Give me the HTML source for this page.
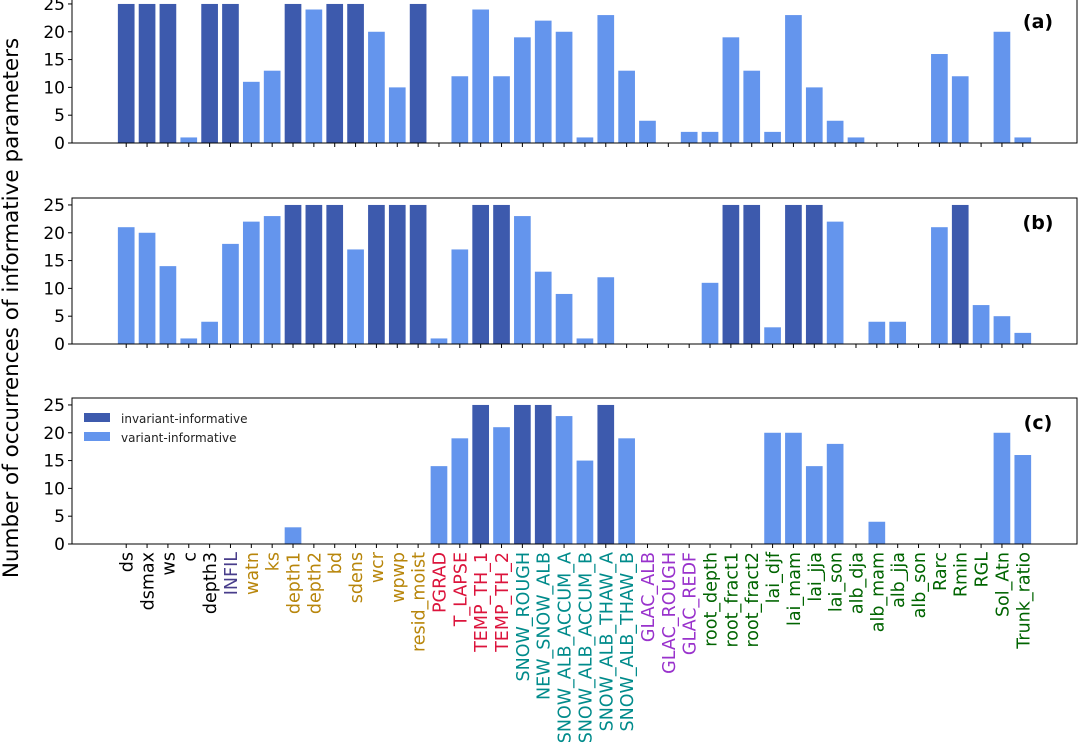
<!DOCTYPE html>
<html><head><meta charset="utf-8"><style>
body{margin:0;background:#fff;}
svg text{font-family:"DejaVu Sans","Liberation Sans",sans-serif;}
</style></head><body>
<svg id="chart" width="1078" height="750" xmlns="http://www.w3.org/2000/svg"></svg>
<script>
const categories=["ds","dsmax","ws","c","depth3","INFIL","watn","ks","depth1","depth2","bd","sdens","wcr","wpwp","resid_moist","PGRAD","T_LAPSE","TEMP_TH_1","TEMP_TH_2","SNOW_ROUGH","NEW_SNOW_ALB","SNOW_ALB_ACCUM_A","SNOW_ALB_ACCUM_B","SNOW_ALB_THAW_A","SNOW_ALB_THAW_B","GLAC_ALB","GLAC_ROUGH","GLAC_REDF","root_depth","root_fract1","root_fract2","lai_djf","lai_mam","lai_jja","lai_son","alb_dja","alb_mam","alb_jja","alb_son","Rarc","Rmin","RGL","Sol_Atn","Trunk_ratio"];
const labelGroups=[0,0,0,0,0,1,2,2,2,2,2,2,2,2,2,3,3,3,3,4,4,4,4,4,4,5,5,5,6,6,6,6,6,6,6,6,6,6,6,6,6,6,6,6];
const groupColors=["#000000","#483d8b","#b8860b","#dc143c","#008b8b","#9932cc","#006400"];
const valuesA=[25,25,25,1,25,25,11,13,25,24,25,25,20,10,25,0,12,24,12,19,22,20,1,23,13,4,0,2,2,19,13,2,23,10,4,1,0,0,0,16,12,0,20,1];
const invariantA=[1,1,1,0,1,1,0,0,1,0,1,1,0,0,1,0,0,0,0,0,0,0,0,0,0,0,0,0,0,0,0,0,0,0,0,0,0,0,0,0,0,0,0,0];
const valuesB=[21,20,14,1,4,18,22,23,25,25,25,17,25,25,25,1,17,25,25,23,13,9,1,12,0,0,0,0,11,25,25,3,25,25,22,0,4,4,0,21,25,7,5,2];
const invariantB=[0,0,0,0,0,0,0,0,1,1,1,0,1,1,1,0,0,1,1,0,0,0,0,0,0,0,0,0,0,1,1,0,1,1,0,0,0,0,0,0,1,0,0,0];
const valuesC=[0,0,0,0,0,0,0,0,3,0,0,0,0,0,0,14,19,25,21,25,25,23,15,25,19,0,0,0,0,0,0,20,20,14,18,0,4,0,0,0,0,0,20,16];
const invariantC=[0,0,0,0,0,0,0,0,0,0,0,0,0,0,0,0,0,1,0,1,1,0,0,1,0,0,0,0,0,0,0,0,0,0,0,0,0,0,0,0,0,0,0,0];
const yTicks=[0,5,10,15,20,25];
const panelNames=["(a)","(b)","(c)"];

const NS="http://www.w3.org/2000/svg";
const svg=document.getElementById("chart");
function mk(tag,attrs,parent){const e=document.createElementNS(NS,tag);for(const k in attrs)e.setAttribute(k,attrs[k]);(parent||svg).appendChild(e);return e;}
const L=72,R=1077,YMAX=26.25;
const n=categories.length;
const step=(R-L)/(n-1+2*2.6);
function xc(i){return L+2.6*step+i*step;}
const barW=step*0.8;
const DARK="#3d5aad",LIGHT="#6495ed";
const panels=[{bot:143,vals:valuesA,inv:invariantA},{bot:344,vals:valuesB,inv:invariantB},{bot:544,vals:valuesC,inv:invariantC}];
const H=146;
panels.forEach((p,pi)=>{
  const top=p.bot-H;
  const g=mk("g",{});
  
  
  function y(v){return p.bot-v/YMAX*H;}
  p.vals.forEach((v,i)=>{
    if(v<=0)return;
    const r=mk("rect",{x:xc(i)-barW/2,y:y(v),width:barW,height:p.bot-y(v),fill:p.inv[i]?DARK:LIGHT},g);
    
    
  });
  const f=mk("rect",{x:L,y:top,width:R-L,height:H,fill:"none",stroke:"#000","stroke-width":1},g);
  
  
  yTicks.forEach(t=>{
    mk("line",{x1:L-4,x2:L,y1:y(t),y2:y(t),stroke:"#000"},g);
    const tx=mk("text",{x:L-7,y:y(t)+6,"text-anchor":"end","font-size":17,fill:"#000"},g);
    tx.textContent=t;
    
    
  });
  categories.forEach((c,i)=>{mk("line",{x1:xc(i),x2:xc(i),y1:p.bot,y2:p.bot+4,stroke:"#000"},g);});
  const pl=mk("text",{x:1038,y:top+31,"text-anchor":"middle","font-size":19,"font-weight":"bold",fill:"#000"},g);
  pl.textContent=panelNames[pi];
  
  
});
categories.forEach((c,i)=>{
  const t=mk("text",{transform:`translate(${xc(i)+6.5},552) rotate(-90)`,"text-anchor":"end","font-size":17.5,fill:groupColors[labelGroups[i]]});
  t.textContent=c;
  
  
});
const yl=mk("text",{transform:"translate(18,308) rotate(-90)","text-anchor":"middle","font-size":21.5,fill:"#000"});
yl.textContent="Number of occurrences of informative parameters";


const lg=mk("g",{});


[["invariant-informative",DARK,413],["variant-informative",LIGHT,432]].forEach(([lab,col,yy])=>{
  const e=mk("g",{},lg);
  
  
  mk("rect",{x:84,y:yy,width:26,height:9,fill:col},e);
  const t=mk("text",{x:121,y:yy+10,"font-size":12,fill:"#222"},e);
  t.textContent=lab;
});
</script>
</body></html>
